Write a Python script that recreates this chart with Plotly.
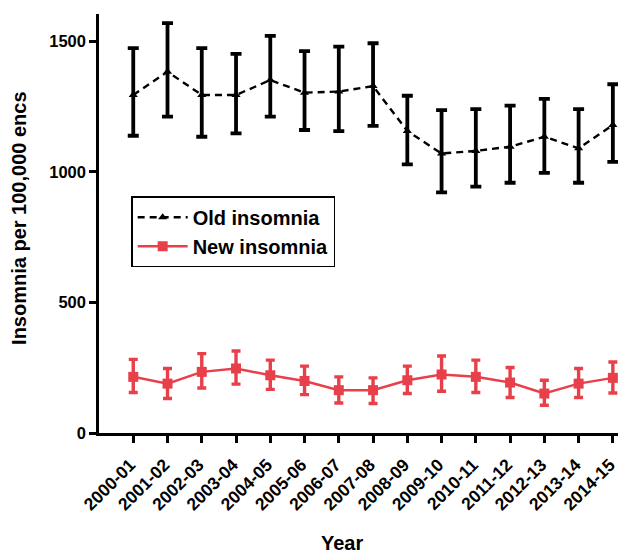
import plotly.graph_objects as go

years = ["2000-01", "2001-02", "2002-03", "2003-04", "2004-05", "2005-06", "2006-07",
         "2007-08", "2008-09", "2009-10", "2010-11", "2011-12", "2012-13", "2013-14", "2014-15"]

old_mean = [1294, 1383, 1294, 1294, 1351, 1303, 1307, 1328, 1156, 1070, 1080, 1096, 1134, 1090, 1179]
old_upper = [1473, 1569, 1473, 1451, 1520, 1462, 1479, 1492, 1291, 1236, 1240, 1253, 1279, 1240, 1335]
old_lower = [1138, 1211, 1134, 1147, 1211, 1160, 1156, 1176, 1028, 921, 943, 958, 996, 958, 1038]

new_mean = [215, 189, 234, 247, 221, 199, 164, 164, 202, 224, 215, 193, 151, 189, 211]
new_upper = [282, 247, 304, 314, 279, 256, 215, 211, 256, 295, 279, 251, 202, 247, 272]
new_lower = [155, 132, 172, 187, 167, 147, 115, 113, 151, 160, 155, 136, 106, 136, 153]

y_ticks = [0, 500, 1000, 1500]

RED = "#E8404A"
FONT = "Liberation Sans, Arial, sans-serif"

fig = go.Figure()
fig.add_trace(go.Scatter(
    x=years, y=old_mean, name="Old insomnia", mode="lines+markers",
    line=dict(color="black", width=2.4, dash="7px,5px"),
    marker=dict(symbol="triangle-up", size=8, color="black"),
    error_y=dict(type="data", symmetric=False,
                 array=[u - m for u, m in zip(old_upper, old_mean)],
                 arrayminus=[m - l for m, l in zip(old_mean, old_lower)],
                 color="black", thickness=3.8, width=5.5),
    cliponaxis=False,
))
fig.add_trace(go.Scatter(
    x=years, y=new_mean, name="New insomnia", mode="lines+markers",
    line=dict(color=RED, width=2.5),
    marker=dict(symbol="square", size=10, color=RED),
    error_y=dict(type="data", symmetric=False,
                 array=[u - m for u, m in zip(new_upper, new_mean)],
                 arrayminus=[m - l for m, l in zip(new_mean, new_lower)],
                 color=RED, thickness=3.4, width=4.5),
    cliponaxis=False,
))

fig.update_layout(
    width=619, height=553,
    margin=dict(l=99, r=1, t=14, b=120, autoexpand=False),
    plot_bgcolor="white", paper_bgcolor="white",
    font=dict(family=FONT, color="black", size=15),
    showlegend=True,
    legend=dict(x=0.062, y=0.565, xanchor="left", yanchor="top",
                bordercolor="black", borderwidth=1.5, bgcolor="white",
                font=dict(size=20, family=FONT, weight="bold"),
                itemwidth=50),
    xaxis=dict(type="category", range=[-1, 14.15], showgrid=False, zeroline=False,
               automargin=False,
               showline=True, linecolor="black", linewidth=2.5,
               ticks="outside", ticklen=7, tickwidth=2.5, tickcolor="black",
               tickangle=-45, ticklabelstandoff=5, ticklabelshift=-3,
               tickfont=dict(size=17.5, family=FONT, weight="bold")),
    yaxis=dict(range=[0, 1604], showgrid=False, zeroline=False,
               automargin=False,
               showline=True, linecolor="black", linewidth=2.5,
               tickvals=y_ticks, ticktext=[str(v) for v in y_ticks],
               ticks="outside", ticklen=7, tickwidth=2.5, tickcolor="black",
               tickfont=dict(size=16.5, family=FONT, weight="bold")),
    annotations=[
        dict(text="Year", xref="paper", yref="paper", x=0.468, y=-0.2625,
             xanchor="center", yanchor="middle", showarrow=False,
             font=dict(size=20, family=FONT, weight="bold")),
        dict(text="Insomnia per 100,000 encs", xref="paper", yref="paper",
             x=-0.1541, y=0.511, xanchor="center", yanchor="middle",
             textangle=-90, showarrow=False,
             font=dict(size=20, family=FONT, weight="bold")),
    ],
)

fig.write_html(
    "out.html",
    config={"displayModeBar": False},
    post_script="document.body.style.margin='0';document.body.style.overflow='hidden';",
)
